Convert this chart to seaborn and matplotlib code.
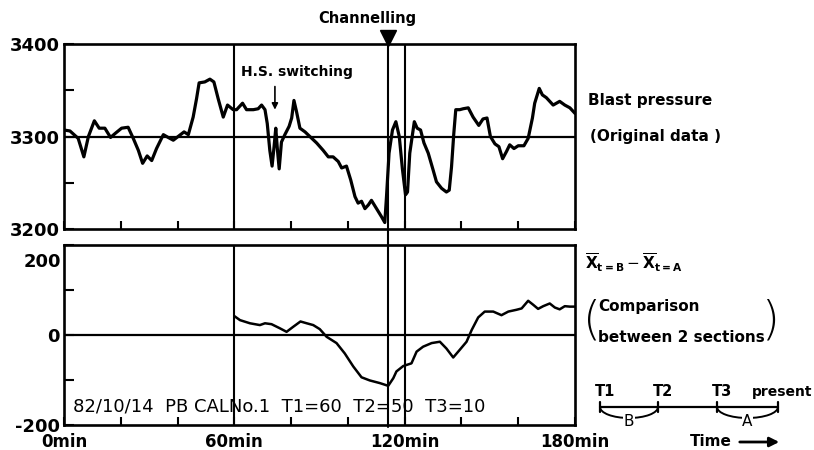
import pandas as pd
import matplotlib
matplotlib.use("Agg")
import matplotlib.pyplot as plt
from matplotlib.patches import Arc
import seaborn as sns

# ---- datos ----
# presion de soplado (traza superior)
bp_min = [0, 2.1, 5, 7, 8.6, 10.7, 12.4, 14.4, 16.4, 18.3,
          20.3, 22.6, 24.4, 26.2, 27.7, 29.3, 30.9, 32.6, 35, 36.7,
          38.5, 40.2, 42.3, 43.8, 45.5, 46.7, 47.6, 49.6, 51.4, 52.8,
          54.3, 56.1, 57.6, 59.6, 60.8, 62.9, 64.3, 66.7, 68.4, 69.6,
          70.8, 71.6, 72.5, 73.3, 74, 74.6, 75.2, 75.8, 76.6, 77.8,
          79.3, 80.2, 81, 81.9, 83.1, 84.9, 86.6, 89, 91.3, 93.1,
          94.8, 96.6, 97.8, 99.5, 101, 102.5, 103.6, 104.8, 106, 107.2,
          108.3, 110.1, 111.9, 113, 113.6, 114.5, 115.7, 116.9, 118.1, 119.2,
          120.3, 121, 121.8, 123.4, 124.4, 125.6, 126.8, 128.3, 130, 131.2,
          133, 134.7, 135.7, 136.5, 137.3, 138, 139.4, 140.6, 142.4, 144.1,
          146.1, 147.6, 149, 150.2, 151.8, 153.2, 154.5, 155.9, 157, 158.5,
          160, 162, 163.5, 165, 165.8, 167.4, 168.5, 169.9, 172.3, 174.6,
          176.4, 178.2, 180]
bp_val = [3307, 3306, 3298, 3278, 3300, 3317, 3309, 3309, 3299, 3304,
          3309, 3310, 3298, 3285, 3271, 3279, 3274, 3287, 3302, 3299,
          3296, 3300, 3305, 3302, 3321, 3341, 3358, 3359, 3362, 3359,
          3341, 3321, 3334, 3329, 3329, 3336, 3329, 3329, 3330, 3334,
          3329, 3314, 3285, 3268, 3289, 3309, 3285, 3265, 3294, 3302,
          3311, 3320, 3339, 3327, 3309, 3305, 3300, 3293, 3285, 3278,
          3278, 3273, 3266, 3268, 3253, 3235, 3228, 3230, 3222, 3226,
          3231, 3222, 3213, 3207, 3235, 3282, 3307, 3316, 3300, 3265,
          3237, 3240, 3282, 3316, 3309, 3307, 3293, 3282, 3264, 3251,
          3244, 3240, 3242, 3267, 3303, 3329, 3329, 3330, 3331, 3321,
          3312, 3319, 3320, 3300, 3292, 3289, 3276, 3284, 3291, 3287,
          3290, 3290, 3298, 3320, 3336, 3352, 3345, 3342, 3334, 3338,
          3334, 3331, 3325]

# diferencia de medias entre secciones (traza inferior)
diff_min = [60, 62, 65.5, 69, 70.8, 73.1, 76, 78.4, 80.7, 83.3,
            85.5, 87.8, 90.1, 92.5, 96, 98.9, 101.9, 104.8, 107.7, 111.3,
            114.2, 116, 117.1, 119.5, 122.4, 124.2, 126.5, 129.5, 132.4, 134.7,
            137.1, 139.4, 141.8, 143.6, 145.9, 148.2, 151.2, 154.1, 156.5, 159.4,
            161.2, 163.5, 165.3, 167, 168.8, 171.1, 172.9, 174.6, 176.4, 178.2,
            180]
diff_val = [42, 33, 26, 22, 26, 24, 15, 7, 18, 30,
            26, 22, 13, -4, -18, -41, -70, -94, -101, -107,
            -113, -96, -81, -69, -63, -37, -26, -18, -15, -30,
            -50, -33, -15, 11, 39, 52, 52, 44, 52, 56,
            59, 76, 67, 58, 64, 70, 61, 57, 64, 63,
            63]

x_ticks = [0, 20, 40, 60, 80, 100, 120, 140, 160, 180]
x_labels = ["0min", "", "", "60min", "", "", "120min", "", "", "180min"]
bp_ticks = [3200, 3250, 3300, 3350, 3400]
bp_labels = ["3200", "", "3300", "", "3400"]
diff_ticks = [-200, -100, 0, 100, 200]
diff_labels = ["-200", "", "0", "", ""]   # el "200" va aparte, mas abajo

section_lines = [60, 120]
channelling_min = 114
switching_min = 74.3

header = "82/10/14  PB CALNo.1  T1=60  T2=50  T3=10"
timeline_labels = ["T1", "T2", "T3", "present"]

df_bp = pd.DataFrame({"min": bp_min, "val": bp_val})
df_diff = pd.DataFrame({"min": diff_min, "val": diff_val})

sns.set_theme(style="white")
plt.rcParams["font.family"] = ["DejaVu Sans"]
plt.rcParams["text.color"] = "black"
plt.rcParams["xtick.color"] = "black"
plt.rcParams["ytick.color"] = "black"

fig = plt.figure(figsize=(8.14, 4.5), dpi=100)
ax1 = fig.add_axes([0.0786, 0.4911, 0.6278, 0.4111])
ax2 = fig.add_axes([0.0786, 0.0556, 0.6278, 0.4000])

sns.lineplot(data=df_bp, x="min", y="val", ax=ax1, color="black", lw=2.3,
             estimator=None, sort=False)
sns.lineplot(data=df_diff, x="min", y="val", ax=ax2, color="black", lw=1.8,
             estimator=None, sort=False)

for ax in (ax1, ax2):
    for s in ax.spines.values():
        s.set_visible(True)
        s.set_color("black")
        s.set_linewidth(1.9)
    ax.set_xlim(0, 180)
    ax.set_xlabel("")
    ax.set_ylabel("")
    ax.tick_params(axis="x", direction="in", length=6, width=1.5, color="black",
                   bottom=True, top=False, pad=6, labelcolor="black")
    ax.tick_params(axis="y", direction="in", length=7, width=1.5, color="black",
                   left=True, right=False, pad=3, labelcolor="black")
    for t in section_lines:
        ax.axvline(t, color="black", lw=1.5)

ax1.set_ylim(3200, 3400)
ax1.axhline(3300, color="black", lw=1.6)
ax1.set_xticks(x_ticks, [""] * len(x_ticks))
ax1.set_yticks(bp_ticks, bp_labels, fontsize=13, fontweight="bold")

ax2.set_ylim(-200, 200)
ax2.axhline(0, color="black", lw=1.6)
ax2.set_xticks(x_ticks, x_labels, fontsize=12, fontweight="bold")
ax2.set_yticks(diff_ticks, diff_labels, fontsize=13, fontweight="bold")
ax2.text(-0.006, 0.905, "200", transform=ax2.transAxes, ha="right", va="center",
         fontsize=13, fontweight="bold")

# linea de canalizacion atravesando ambos paneles
ax1.axvline(channelling_min, ymin=-0.09, ymax=1.0, color="black", lw=1.5, clip_on=False)
ax2.axvline(channelling_min, ymin=-0.01, ymax=1.0, color="black", lw=1.5, clip_on=False)
ax1.plot([channelling_min], [1.035], marker="v", ms=11, color="black",
         transform=ax1.get_xaxis_transform(), clip_on=False)
ax1.text(107, 1.14, "Channelling", transform=ax1.get_xaxis_transform(),
         ha="center", va="center", fontsize=10.5, fontweight="bold")

ax1.text(82, 3370, "H.S. switching", ha="center", va="center",
         fontsize=10, fontweight="bold")
ax1.annotate("", xy=(switching_min, 3326), xytext=(switching_min, 3357),
             arrowprops=dict(arrowstyle="-|>", lw=1.2, color="black", mutation_scale=9))

ax2.text(0.018, 0.1, header, transform=ax2.transAxes, ha="left", va="center",
         fontsize=13)

# textos y esquema de la derecha (coordenadas en pixeles)
axd = fig.add_axes([0, 0, 1, 1])
axd.set_xlim(0, 814)
axd.set_ylim(450, 0)
axd.axis("off")
axd.patch.set_visible(False)

axd.text(588, 100, "Blast pressure", ha="left", va="center", fontsize=11, fontweight="bold")
axd.text(590, 137, "(Original data )", ha="left", va="center", fontsize=11, fontweight="bold")
axd.text(585, 263, r"$\overline{\mathbf{X}}_{\mathbf{t=B}} - \overline{\mathbf{X}}_{\mathbf{t=A}}$",
         ha="left", va="center", fontsize=11)
axd.text(598, 307, "Comparison", ha="left", va="center", fontsize=11, fontweight="bold")
axd.text(598, 338, "between 2 sections", ha="left", va="center", fontsize=11, fontweight="bold")
axd.text(592, 321, "(", ha="center", va="center", fontsize=33, fontweight="light")
axd.text(770, 321, ")", ha="center", va="center", fontsize=33, fontweight="light")

tl_x = [600, 658, 717, 778]
tl_y = 407
axd.plot([tl_x[0], tl_x[-1]], [tl_y, tl_y], color="black", lw=1.6)
for xx, lab in zip(tl_x, timeline_labels):
    axd.plot([xx, xx], [tl_y - 5, tl_y + 5], color="black", lw=1.6)
    if lab == "present":
        axd.text(812, 392, lab, ha="right", va="center", fontsize=10, fontweight="bold")
    else:
        axd.text(xx + 5, 392, lab, ha="center", va="center", fontsize=10.5, fontweight="bold")
for (a, b), lab in zip([(tl_x[0], tl_x[1]), (tl_x[2], tl_x[3])], ["B", "A"]):
    axd.add_patch(Arc(((a + b) / 2, tl_y), b - a, 22, theta1=0, theta2=180,
                      color="black", lw=1.4))
    axd.text((a + b) / 2, 421, lab, ha="center", va="center", fontsize=11,
             bbox=dict(facecolor="white", edgecolor="none", pad=0.5))
axd.text(690, 442, "Time", ha="left", va="center", fontsize=11, fontweight="bold")
axd.annotate("", xy=(782, 442), xytext=(737, 442),
             arrowprops=dict(arrowstyle="-|>", lw=2, color="black", mutation_scale=14))

fig.savefig("out.png", dpi=100)
